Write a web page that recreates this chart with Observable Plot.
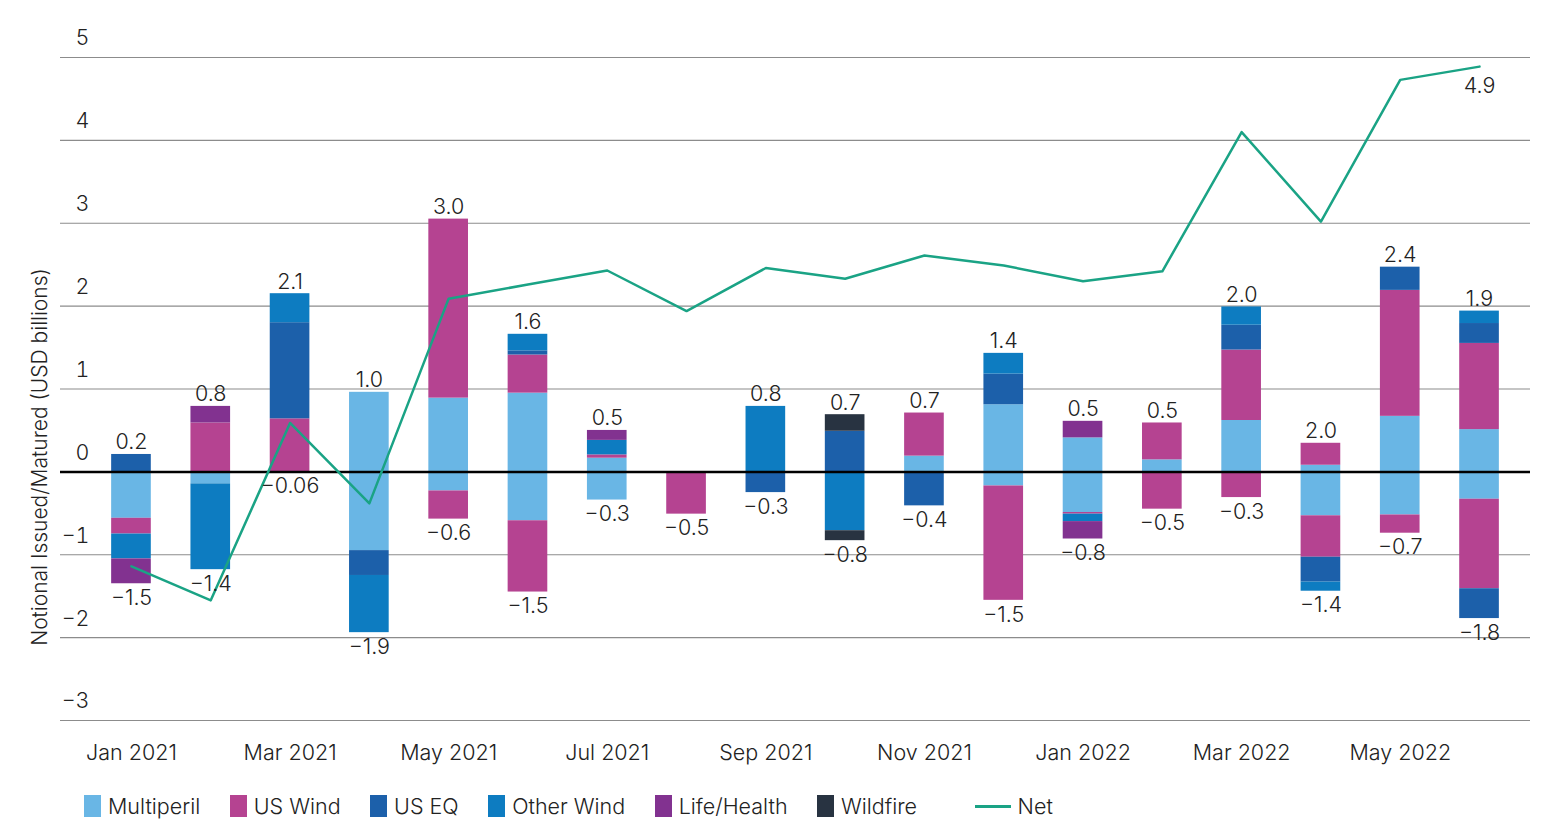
<!DOCTYPE html>
<html><head><meta charset="utf-8">
<script src="https://cdn.jsdelivr.net/npm/d3@7"></script>
<script src="https://cdn.jsdelivr.net/npm/@observablehq/plot@0.6"></script>
<style>
body{margin:0;background:#fff;font-family:Inter,Roboto,"Liberation Sans",sans-serif;}
#chart{position:relative;width:1547px;height:827px;}
#legend{position:absolute;left:84px;top:793px;display:flex;align-items:center;font-size:21.5px;font-weight:300;color:#222;}
#legend .item{display:flex;align-items:center;margin-right:29.5px;}
#legend .sw{width:17px;height:22px;margin-right:7px;}
#legend .ln{width:36px;height:3px;margin-right:7px;margin-left:28px;}
</style></head><body>
<div id="chart"><div id="legend"></div></div>
<script>
const months = ["Jan 2021","Feb 2021","Mar 2021","Apr 2021","May 2021","Jun 2021","Jul 2021","Aug 2021","Sep 2021","Oct 2021","Nov 2021","Dec 2021","Jan 2022","Feb 2022","Mar 2022","Apr 2022","May 2022","Jun 2022"];
const series = ["Multiperil","US Wind","US EQ","Other Wind","Life/Health","Wildfire"];
const colors = ["#69b6e5","#b54391","#1c60aa","#0d7cc1","#823290","#283341"];
const netColor = "#1aa385";

// issued (positive) per series
const multiperilIssued = [0,0,0,0.96,0.89,0.95,0.165,0,0,0,0.19,0.81,0.41,0.145,0.62,0.08,0.67,0.51];
const usWindIssued     = [0,0.59,0.64,0,2.16,0.46,0.04,0,0,0,0.52,0,0,0.445,0.85,0.265,1.52,1.04];
const usEqIssued       = [0.21,0,1.16,0,0,0.05,0,0,0,0.49,0,0.37,0,0,0.30,0,0.28,0.24];
const otherWindIssued  = [0,0,0.35,0,0,0.20,0.175,0,0.79,0,0,0.25,0,0,0.22,0,0,0.15];
const lifeHealthIssued = [0,0.20,0,0,0,0,0.12,0,0,0,0,0,0.20,0,0,0,0,0];
const wildfireIssued   = [0,0,0,0,0,0,0,0,0,0.20,0,0,0,0,0,0,0,0];
// matured (negative) per series
const multiperilMatured = [-0.56,-0.145,0,-0.95,-0.23,-0.59,-0.34,0,0,0,0,-0.17,-0.49,0,0,-0.53,-0.52,-0.33];
const usWindMatured     = [-0.19,0,0,0,-0.34,-0.86,0,-0.51,0,0,0,-1.38,-0.02,-0.45,-0.31,-0.50,-0.22,-1.08];
const usEqMatured       = [0,0,0,-0.30,0,0,0,0,-0.25,0,-0.41,0,0,0,0,-0.30,0,-0.36];
const otherWindMatured  = [-0.30,-1.035,0,-0.69,0,0,0,0,0,-0.71,0,0,-0.09,0,0,-0.11,0,0];
const lifeHealthMatured = [-0.30,0,0,0,0,0,0,0,0,0,0,0,-0.21,0,0,0,0,0];
const wildfireMatured   = [0,0,0,0,0,0,0,0,0,-0.12,0,0,0,0,0,0,0,0];

const net = [-1.14,-1.55,0.59,-0.38,2.09,2.26,2.43,1.94,2.46,2.33,2.61,2.49,2.30,2.42,4.10,3.02,4.73,4.89];

const issuedLabels  = ["0.2","0.8","2.1","1.0","3.0","1.6","0.5","","0.8","0.7","0.7","1.4","0.5","0.5","2.0","2.0","2.4","1.9"];
const maturedLabels = ["−1.5","−1.4","−0.06","−1.9","−0.6","−1.5","−0.3","−0.5","−0.3","−0.8","−0.4","−1.5","−0.8","−0.5","−0.3","−1.4","−0.7","−1.8"];
const netLastLabel = "4.9";
const yTicks = [-3,-2,-1,0,1,2,3,4,5];
const yTitle = "Notional Issued/Matured (USD billions)";

const issued = [multiperilIssued,usWindIssued,usEqIssued,otherWindIssued,lifeHealthIssued,wildfireIssued];
const matured = [multiperilMatured,usWindMatured,usEqMatured,otherWindMatured,lifeHealthMatured,wildfireMatured];

const rows = [];
series.forEach((s, si) => {
  months.forEach((m, mi) => {
    if (issued[si][mi] !== 0) rows.push({month: m, series: s, value: issued[si][mi]});
  });
});
series.forEach((s, si) => {
  months.forEach((m, mi) => {
    if (matured[si][mi] !== 0) rows.push({month: m, series: s, value: matured[si][mi]});
  });
});
const totals = months.map((m, mi) => ({
  month: m,
  pos: d3.sum(issued, a => a[mi]),
  neg: d3.sum(matured, a => a[mi]),
  posLabel: issuedLabels[mi],
  negLabel: maturedLabels[mi],
  net: net[mi]
}));

const fmt = d => d < 0 ? "−" + Math.abs(d) : String(d);

const chart = Plot.plot({
  width: 1547,
  height: 780,
  marginTop: 57,
  marginBottom: 60,
  marginLeft: 60,
  marginRight: 17,
  style: {fontFamily: "Inter, Roboto, 'Liberation Sans', sans-serif", fontSize: "21.5px", fontWeight: 300, color: "#222", background: "white"},
  x: {type: "band", domain: months, range: [71.5, 1538.5], paddingInner: 0.5, paddingOuter: 0.5, align: 0.5, round: false},
  y: {domain: [-3, 5]},
  color: {domain: series, range: colors},
  marks: [
    Plot.ruleY(yTicks.filter(d => d !== 0), {stroke: "#8c8c8c", strokeWidth: 1.2}),
    Plot.barY(rows, Plot.stackY({x: "month", y: "value", fill: "series", order: series})),
    Plot.ruleY([0], {stroke: "#000", strokeWidth: 2.5}),
    Plot.line(totals, {x: "month", y: "net", stroke: netColor, strokeWidth: 2.5}),
    Plot.text(totals, {x: "month", y: "pos", text: "posLabel", lineAnchor: "bottom", dy: -5, fill: "#222"}),
    Plot.text(totals, {x: "month", y: "neg", text: "negLabel", lineAnchor: "top", dy: 6, fill: "#222"}),
    Plot.text(totals.slice(-1), {x: "month", y: "net", text: () => netLastLabel, lineAnchor: "top", dy: 11, fill: "#222"}),
    Plot.axisY({ticks: yTicks, tickSize: 0, tickPadding: 0, dx: 29, dy: -19, tickFormat: fmt, label: null, textAnchor: "end"}),
    Plot.axisX({ticks: months.filter((d, i) => i % 2 === 0), tickSize: 0, tickPadding: 24, label: null}),
    Plot.text([yTitle], {frameAnchor: "left", textAnchor: "middle", rotate: -90, dx: -20, dy: 68, fill: "#222", fontSize: 21})
  ]
});
const host = document.getElementById("chart");
host.insertBefore(chart, host.firstChild);

const legend = document.getElementById("legend");
series.forEach((s, i) => {
  const it = document.createElement("div");
  it.className = "item";
  it.innerHTML = `<div class="sw" style="background:${colors[i]}"></div><span>${s}</span>`;
  legend.appendChild(it);
});
const ni = document.createElement("div");
ni.className = "item";
ni.innerHTML = `<div class="ln" style="background:${netColor}"></div><span>Net</span>`;
legend.appendChild(ni);
</script>
</body></html>
